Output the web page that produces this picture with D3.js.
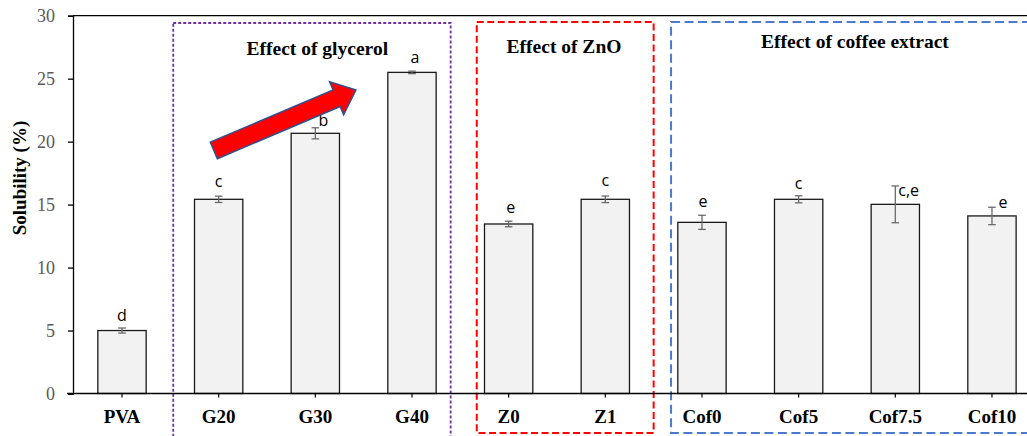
<!DOCTYPE html>
<html>
<head>
<meta charset="utf-8">
<script src="https://cdn.jsdelivr.net/npm/d3@7"></script>
<style>
  html, body { margin: 0; padding: 0; background: #fff; }
  svg { display: block; }
  .serif { font-family: "Liberation Serif", "Times New Roman", "DejaVu Serif", serif; }
</style>
</head>
<body>
<div id="chart"></div>
<script>
// ---- data ----
const categories = ["PVA", "G20", "G30", "G40", "Z0", "Z1", "Cof0", "Cof5", "Cof7.5", "Cof10"];
const solubility = [5.0, 15.42, 20.66, 25.5, 13.46, 15.42, 13.59, 15.42, 15.02, 14.1];
const errors     = [0.2, 0.25, 0.44, 0.1, 0.22, 0.26, 0.56, 0.28, 1.46, 0.69];
const letters    = ["d", "c", "b", "a", "e", "c", "e", "c", "c,e", "e"];
const yTicks     = [0, 5, 10, 15, 20, 25, 30];
const groupTitles = ["Effect of glycerol", "Effect of ZnO", "Effect of coffee extract"];
const groupFirst  = ["G20", "Z0", "Cof0"];
const groupLast   = ["G40", "Z1", "Cof10"];
const yLabel = "Solubility (%)";
const arrowFrom = { cat: "G20", value: 19.3 };
const arrowTo   = { cat: "G30", value: 24.1 };

// ---- layout ----
const W = 1027, H = 436;
const labelNudge = [[0,-7],[0,-9],[8,-2],[3,-8],[2,-8],[0,-10],[1,-8],[0,-7],[null,10],[11,1]];
const groupStyle = [
  { color: "#7030A0", dash: "3,2", width: 1.8, left: -0.47, right: 0.40, top: 23, bottom: 445, titleDx: 2, titleY: 55 },
  { color: "#FF0000", dash: "7,3.5", width: 2, left: -0.33, right: 0.50, top: 22, bottom: 433, titleDx: 7, titleY: 53 },
  { color: "#4A7BD0", dash: "9,4.5", width: 2, left: -0.32, right: 0.60, top: 22, bottom: 433, titleDx: 8, titleY: 48 }
];

const svg = d3.select("#chart").append("svg").attr("width", W).attr("height", H);

const x = d3.scaleBand().domain(categories).range([73.67, 1040.3]).paddingInner(0.5).paddingOuter(0.25);
const y = d3.scaleLinear().domain([0, 30]).range([393.5, 15.7]);
const step = x.step();
const cx = c => x(c) + x.bandwidth() / 2;

// group boxes
groupTitles.forEach((t, i) => {
  const s = groupStyle[i];
  const x0 = cx(groupFirst[i]) + s.left * step;
  const x1 = cx(groupLast[i]) + s.right * step;
  svg.append("rect")
    .attr("x", x0).attr("y", s.top)
    .attr("width", x1 - x0).attr("height", s.bottom - s.top)
    .attr("fill", "none").attr("stroke", s.color)
    .attr("stroke-width", s.width).attr("stroke-dasharray", s.dash);
  svg.append("text").attr("class", "serif")
    .attr("x", (cx(groupFirst[i]) + cx(groupLast[i])) / 2 + s.titleDx)
    .attr("y", s.titleY)
    .attr("text-anchor", "middle")
    .attr("font-weight", "bold").attr("font-size", 19.5)
    .attr("fill", "#000").text(t);
});

// bars
svg.selectAll("rect.bar").data(categories).enter().append("rect")
  .attr("class", "bar")
  .attr("x", d => x(d)).attr("width", x.bandwidth())
  .attr("y", (d, i) => y(solubility[i]))
  .attr("height", (d, i) => y(0) - y(solubility[i]))
  .attr("fill", "#F2F2F2").attr("stroke", "#1a1a1a").attr("stroke-width", 1.3);

// error bars
const eb = svg.append("g").attr("stroke", "#6a6a6a").attr("stroke-width", 1.3);
categories.forEach((c, i) => {
  const xc = cx(c), top = y(solubility[i] + errors[i]), bot = y(solubility[i] - errors[i]);
  eb.append("line").attr("x1", xc).attr("x2", xc).attr("y1", top).attr("y2", bot);
  eb.append("line").attr("x1", xc - 3.8).attr("x2", xc + 3.8).attr("y1", top).attr("y2", top);
  eb.append("line").attr("x1", xc - 3.8).attr("x2", xc + 3.8).attr("y1", bot).attr("y2", bot);
});

// significance letters
categories.forEach((c, i) => {
  const n = labelNudge[i];
  const top = y(solubility[i] + errors[i]);
  const t = svg.append("text")
    .attr("font-family", "'Open Sans', 'Liberation Sans', sans-serif")
    .attr("font-size", 16).attr("fill", "#000")
    .attr("y", top + n[1]).text(letters[i]);
  if (n[0] === null) t.attr("x", cx(c) + 3).attr("text-anchor", "start");
  else t.attr("x", cx(c) + n[0]).attr("text-anchor", "middle");
});

// arrow annotation
(function () {
  const x1 = cx(arrowFrom.cat) - 0.05 * step, y1 = y(arrowFrom.value);
  const x2 = cx(arrowTo.cat) + 0.42 * step, y2 = y(arrowTo.value);
  const dx = x2 - x1, dy = y2 - y1, L = Math.hypot(dx, dy);
  const ux = dx / L, uy = dy / L, nx = -uy, ny = ux;
  const sw = 9, hw = 18, hl = 21;
  const bx = x2 - ux * hl, by = y2 - uy * hl;
  const pts = [
    [x1 + nx * sw, y1 + ny * sw],
    [bx + nx * sw, by + ny * sw],
    [bx + nx * hw, by + ny * hw],
    [x2, y2],
    [bx - nx * hw, by - ny * hw],
    [bx - nx * sw, by - ny * sw],
    [x1 - nx * sw, y1 - ny * sw]
  ];
  svg.append("path").attr("d", d3.line()(pts) + "Z")
    .attr("fill", "#FF0000").attr("stroke", "#2F528F").attr("stroke-width", 1.5)
    .attr("stroke-linejoin", "miter");
})();

// top line at 30
svg.append("line").attr("x1", 73).attr("x2", W).attr("y1", y(30)).attr("y2", y(30))
  .attr("stroke", "#000").attr("stroke-width", 1.3);

// y axis
const yAxis = svg.append("g").attr("transform", "translate(73,0)")
  .call(d3.axisLeft(y).tickValues(yTicks).tickSize(5).tickPadding(13));
yAxis.attr("font-family", null);
yAxis.select(".domain").attr("stroke", "#000").attr("stroke-width", 1.3);
yAxis.selectAll(".tick line").attr("stroke", "#000").attr("stroke-width", 1.3);
yAxis.selectAll(".tick text").attr("class", "serif")
  .attr("font-size", 18).attr("fill", "#595959").attr("dy", "0.34em");

// x axis
const xAxis = svg.append("g").attr("transform", `translate(0,${y(0)})`)
  .call(d3.axisBottom(x).tickSize(4).tickSizeOuter(0));
xAxis.attr("font-family", null);
xAxis.select(".domain").attr("stroke", "#000").attr("stroke-width", 1.3).attr("d", `M67,0H${W}`);
xAxis.selectAll(".tick line").attr("stroke", "#000").attr("stroke-width", 1.2);
xAxis.selectAll(".tick text").attr("class", "serif")
  .attr("font-weight", "bold").attr("font-size", 19).attr("fill", "#000")
  .attr("dy", null).attr("y", 29.5);

// y label
svg.append("text").attr("class", "serif")
  .attr("transform", "translate(26,178) rotate(-90)")
  .attr("text-anchor", "middle")
  .attr("font-weight", "bold").attr("font-size", 19).attr("fill", "#000")
  .text(yLabel);
</script>
</body>
</html>
